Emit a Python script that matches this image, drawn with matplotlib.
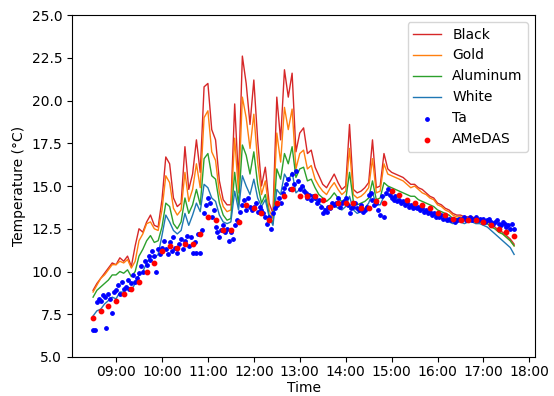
import matplotlib
matplotlib.use("Agg")
import matplotlib.pyplot as plt
import matplotlib.dates as mdates
import pandas as pd

# Temperatura de las placas cada 5 min (08:30 - 17:40)
line_times = pd.date_range("2023-01-01 08:30", periods=111, freq="5min")

black = [
    8.9, 9.3, 9.6, 9.9, 10.2, 10.5, 10.4, 10.8, 10.6, 10.9, 10.3, 11.5,
    12.5, 12.3, 12.9, 13.3, 12.7, 12.6, 14.2, 16.7, 16.3, 14.3, 13.8, 14.0,
    17.3, 14.8, 15.7, 17.7, 15.8, 20.8, 21.0, 18.3, 17.7, 15.3, 14.2, 13.9,
    13.9, 19.8, 15.3, 22.6, 21.0, 18.6, 21.2, 17.7, 15.0, 16.1, 14.0, 13.4,
    20.2, 17.7, 21.8, 20.2, 21.6, 17.0, 18.1, 18.4, 16.9, 17.1, 16.1, 15.6,
    15.1, 14.9, 15.3, 15.7, 15.2, 14.8, 15.0, 18.6, 14.8, 14.6, 14.7, 14.9,
    15.2, 17.7, 14.9, 15.0, 16.9, 16.0, 15.8, 15.7, 15.6, 15.5, 15.3, 15.1,
    15.1, 14.9, 14.8, 14.6, 14.4, 14.3, 14.0, 13.9, 13.7, 13.6, 13.4, 13.3,
    13.3, 13.2, 13.2, 13.2, 13.1, 13.0, 13.0, 12.9, 12.8, 12.6, 12.4, 12.3,
    12.1, 11.9, 11.6,
]
gold = [
    8.8, 9.2, 9.6, 9.8, 10.1, 10.4, 10.4, 10.6, 10.5, 10.7, 10.2, 10.6,
    11.8, 12.2, 12.8, 12.9, 12.5, 12.4, 13.6, 15.6, 15.2, 13.7, 13.3, 13.6,
    15.8, 14.1, 14.8, 16.3, 14.9, 19.0, 19.4, 17.0, 16.5, 14.6, 13.8, 13.5,
    13.6, 17.8, 14.6, 20.2, 19.0, 17.2, 19.2, 16.4, 14.5, 15.3, 13.6, 13.1,
    18.1, 16.4, 19.6, 18.3, 19.5, 16.0, 16.9, 17.1, 16.0, 16.2, 15.4, 15.0,
    14.7, 14.5, 14.9, 15.2, 14.8, 14.5, 14.7, 17.2, 14.5, 14.3, 14.4, 14.6,
    14.9, 16.6, 14.6, 14.7, 16.3, 15.7, 15.6, 15.5, 15.4, 15.3, 15.1, 14.9,
    15.0, 14.8, 14.6, 14.5, 14.3, 14.2, 13.9, 13.8, 13.6, 13.5, 13.3, 13.2,
    13.2, 13.1, 13.1, 13.1, 13.0, 12.9, 12.9, 12.8, 12.7, 12.5, 12.3, 12.2,
    12.0, 11.8, 11.5,
]
aluminum = [
    8.5, 8.9, 9.1, 9.3, 9.5, 9.8, 9.8, 10.0, 9.9, 10.1, 9.7, 10.0,
    10.9, 11.3, 11.8, 12.1, 11.7, 11.8, 12.6, 14.0, 13.8, 12.8, 12.5, 12.9,
    14.3, 13.4, 13.9, 14.8, 13.9, 16.6, 16.9, 15.6, 15.4, 14.0, 13.3, 13.0,
    13.1, 15.8, 13.9, 17.4, 16.8, 15.7, 17.0, 15.1, 14.0, 14.5, 13.3, 12.8,
    16.0, 15.4, 16.9, 16.3, 17.3, 15.5, 16.0, 16.1, 15.3, 15.4, 14.9, 14.5,
    14.3, 14.1, 14.3, 14.6, 14.3, 14.1, 14.2, 15.8, 14.1, 13.9, 14.0, 14.1,
    14.3, 15.3, 14.2, 14.3, 15.2, 15.0, 14.9, 14.8, 14.7, 14.6, 14.5, 14.4,
    14.4, 14.2, 14.1, 14.0, 13.9, 13.8, 13.6, 13.5, 13.4, 13.3, 13.1, 13.1,
    13.1, 13.0, 13.0, 13.0, 12.9, 12.9, 12.8, 12.8, 12.6, 12.5, 12.3, 12.2,
    12.0, 11.8, 11.5,
]
white = [
    7.4, 7.7, 7.8, 8.1, 8.3, 8.5, 8.4, 8.8, 8.8, 9.1, 8.9, 9.3,
    9.8, 10.0, 10.5, 10.9, 10.8, 11.0, 12.1, 13.3, 12.9, 12.4, 12.2, 12.4,
    13.4, 12.7, 13.3, 14.0, 13.5, 15.1, 14.9, 14.3, 14.1, 13.3, 12.9, 12.8,
    12.9, 14.7, 13.6, 15.6, 15.0, 14.5, 15.4, 14.3, 13.8, 14.2, 13.2, 12.7,
    14.8, 14.5, 15.7, 15.3, 15.8, 14.6, 14.8, 15.0, 14.4, 14.5, 14.2, 14.0,
    13.8, 13.5, 13.8, 13.9, 13.7, 13.6, 13.8, 14.4, 13.6, 13.4, 13.5, 13.7,
    14.0, 14.6, 13.9, 13.9, 14.4, 14.5, 14.4, 14.3, 14.2, 14.0, 13.9, 13.8,
    13.8, 13.7, 13.6, 13.5, 13.4, 13.3, 13.2, 13.1, 13.0, 12.9, 12.8, 12.9,
    12.9, 12.8, 12.9, 12.9, 12.8, 12.8, 12.7, 12.6, 12.4, 12.2, 12.0, 11.8,
    11.6, 11.4, 11.0,
]

# Temperatura del aire (Ta) cada 2.5 min
ta_times = pd.date_range("2023-01-01 08:30", periods=221, freq="150s")
ta = [
    6.6, 6.6, 8.2, 8.4, 8.3, 8.6, 8.5, 6.7, 8.7, 8.4, 7.6, 8.8,
    8.9, 9.2, 8.7, 9.4, 9.0, 9.1, 9.5, 9.0, 9.3, 9.8, 9.4, 9.6,
    9.9, 10.3, 10.0, 10.6, 10.4, 10.9, 10.7, 11.2, 10.9, 10.0, 11.3, 11.0,
    11.4, 11.8, 11.3, 11.0, 11.7, 11.2, 12.0, 11.4, 11.1, 11.6, 11.9, 11.3,
    11.8, 12.1, 11.5, 12.0, 11.1, 11.7, 11.1, 12.2, 11.1, 12.4, 13.4, 13.9,
    14.3, 14.0, 13.2, 13.6, 12.6, 12.3, 12.0, 12.4, 12.7, 12.3, 12.5, 11.8,
    12.3, 11.9, 12.7, 13.0, 12.9, 13.5, 13.9, 14.2, 13.6, 14.3, 13.8, 13.6,
    13.8, 14.0, 13.5, 13.8, 13.6, 13.4, 13.2, 12.8, 13.2, 12.5, 13.4, 13.7,
    13.9, 14.3, 14.0, 14.6, 14.9, 15.1, 15.4, 14.8, 15.7, 15.1, 15.9, 15.3,
    14.8, 15.0, 14.7, 14.6, 14.3, 14.5, 14.2, 14.4, 14.3, 14.0, 14.2, 13.8,
    13.4, 13.6, 13.5, 13.8, 13.7, 14.0, 13.9, 14.0, 14.3, 13.8, 14.0, 14.1,
    14.3, 13.9, 13.4, 13.7, 13.8, 14.0, 13.7, 13.6, 13.9, 13.5, 13.6, 13.8,
    14.5, 14.6, 14.2, 13.9, 14.0, 13.6, 13.3, 14.4, 13.2, 14.6, 14.8, 14.5,
    14.3, 14.2, 14.4, 14.1, 14.2, 14.0, 14.1, 13.9, 14.0, 13.8, 13.9, 13.7,
    13.8, 13.7, 13.8, 13.6, 13.7, 13.5, 13.6, 13.4, 13.5, 13.3, 13.4, 13.2,
    13.3, 13.2, 13.3, 13.1, 13.2, 13.0, 13.1, 13.0, 13.1, 12.9, 13.0, 13.1,
    13.0, 13.1, 13.2, 13.0, 13.1, 13.2, 13.0, 13.1, 13.2, 13.0, 13.1, 13.0,
    13.1, 12.9, 13.0, 13.1, 12.9, 12.8, 12.9, 13.0, 12.8, 12.7, 12.9, 12.8,
    12.6, 12.7, 12.5, 12.8, 12.5,
]

# AMeDAS cada 10 min
amedas_times = pd.date_range("2023-01-01 08:30", periods=56, freq="10min")
amedas = [
    7.3, 7.7, 8.0, 8.3, 8.7, 9.0, 9.4, 10.0, 10.5,
    11.2, 11.5, 11.4, 11.6, 11.6, 12.2,
    13.2, 13.0, 12.4, 12.4, 12.9, 13.9,
    13.7, 13.4, 13.0, 14.0, 14.4, 14.8,
    14.4, 14.4, 14.4, 14.2, 13.8, 14.0,
    14.0, 14.0, 13.7, 13.7, 14.1, 14.0,
    14.7, 14.5, 14.2, 14.0, 13.9, 13.7,
    13.4, 13.3, 13.1, 13.0, 13.0, 13.0,
    12.9, 12.7, 12.5, 12.3, 12.1,
]

fig, ax = plt.subplots(figsize=(5.54, 3.96), dpi=100)

ax.plot(line_times, black, color="tab:red", lw=1, label="Black")
ax.plot(line_times, gold, color="tab:orange", lw=1, label="Gold")
ax.plot(line_times, aluminum, color="tab:green", lw=1, label="Aluminum")
ax.plot(line_times, white, color="tab:blue", lw=1, label="White")
ax.scatter(ta_times, ta, color="blue", s=6, label="Ta", zorder=3)
ax.scatter(amedas_times, amedas, color="red", s=10, label="AMeDAS", zorder=4)

ax.set_ylim(5, 25)
ax.set_yticks([5.0, 7.5, 10.0, 12.5, 15.0, 17.5, 20.0, 22.5, 25.0])
ax.xaxis.set_major_locator(mdates.HourLocator())
ax.xaxis.set_major_formatter(mdates.DateFormatter("%H:%M"))
ax.tick_params(axis="x", pad=2)
ax.set_xlabel("Time", labelpad=1.5)
ax.set_ylabel("Temperature (°C)")
ax.legend(loc="upper right")

fig.subplots_adjust(left=0.13, right=0.966, top=0.962, bottom=0.0985)
fig.savefig("out.png")
